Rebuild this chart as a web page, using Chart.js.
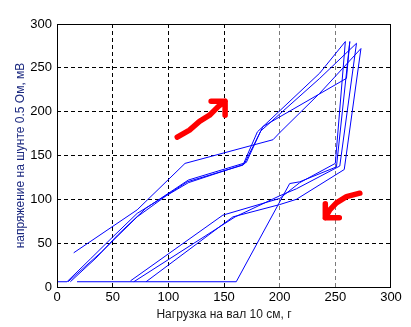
<!DOCTYPE html>
<html><head><meta charset="utf-8">
<script src="https://cdn.jsdelivr.net/npm/chart.js@4.4.1/dist/chart.umd.min.js"></script>
<style>html,body{margin:0;padding:0;background:#fff}</style>
</head><body>
<canvas id="c" width="411" height="327" style="width:411px;height:327px;display:block"></canvas>
<script>
// axis ticks
const xTicks = [0, 50, 100, 150, 200, 250, 300];
const yTicks = [0, 50, 100, 150, 200, 250, 300];

// loading / unloading cycles (load, g  ->  voltage, mV)
const cycle1X = [0, 9, 30, 50, 72, 100, 117, 167, 180, 236, 259, 250, 218, 200, 149, 66];
const cycle1Y = [6, 6, 32, 57, 84, 106, 120, 139, 177, 244, 280, 141, 119, 101, 82, 7];

const cycle2X = [12, 35, 55, 80, 118, 170, 183, 236, 269, 254, 215, 200, 160, 69];
const cycle2Y = [6, 33, 60, 90, 122, 142, 178, 238, 278, 138, 112, 104, 80, 6];

const cycle3X = [15, 72, 115, 194, 200, 236, 273, 258, 215, 200, 158, 80];
const cycle3Y = [39, 88, 141, 168, 176, 221, 272, 134, 100, 94, 80, 6];

const cycle4X = [10, 40, 72, 98, 118, 168, 176, 185, 260, 263, 251, 218, 209, 161, 18];
const cycle4Y = [6, 40, 80, 104, 119, 140, 160, 183, 238, 280, 137, 120, 118, 6, 6];

// hand-drawn red arrows (data coordinates)
const arrowUpX = [108, 119, 128, 137, 145, 151];
const arrowUpY = [171, 179, 189, 196, 206, 212];
const arrowDownX = [272, 260, 251, 245, 241];
const arrowDownY = [107, 103, 96, 88, 79];

const cycles = [[cycle1X, cycle1Y], [cycle2X, cycle2Y], [cycle3X, cycle3Y], [cycle4X, cycle4Y]];
const datasets = cycles.map(([xs, ys]) => ({
  data: xs.map((x, i) => ({x: x, y: ys[i]})),
  showLine: true, borderColor: '#0000ff', borderWidth: 1,
  pointRadius: 0, tension: 0, fill: false
}));

const overlay = {
  id: 'overlay',
  afterDraw(chart) {
    const {ctx, chartArea: a, scales: {x, y}} = chart;
    ctx.save();
    ctx.strokeStyle = '#000'; ctx.lineWidth = 1; ctx.setLineDash([]);
    ctx.strokeRect(Math.round(a.left) + 0.5, Math.round(a.top) + 0.5,
                   Math.round(a.right - a.left) - 1, Math.round(a.bottom - a.top));
    const drawArrow = (xs, ys) => {
      const pts = xs.map((v, i) => [x.getPixelForValue(v), y.getPixelForValue(ys[i])]);
      ctx.strokeStyle = '#ff0000'; ctx.lineWidth = 5.5;
      ctx.lineCap = 'round'; ctx.lineJoin = 'round';
      ctx.beginPath();
      pts.forEach((p, i) => i ? ctx.lineTo(p[0], p[1]) : ctx.moveTo(p[0], p[1]));
      const n = pts.length, tip = pts[n - 1], prev = pts[n - 2];
      let back = Math.atan2(prev[1] - tip[1], prev[0] - tip[0]);
      back = Math.round(back / (Math.PI / 4)) * (Math.PI / 4);
      const L = 14;
      [back - Math.PI / 4, back + Math.PI / 4].forEach(ang => {
        ctx.moveTo(tip[0], tip[1]);
        ctx.lineTo(tip[0] + L * Math.cos(ang), tip[1] + L * Math.sin(ang));
      });
      ctx.stroke();
    };
    drawArrow(arrowUpX, arrowUpY);
    drawArrow(arrowDownX, arrowDownY);
    ctx.restore();
  }
};

const gridColor = (ctx, axis) => {
  const v = ctx.tick && ctx.tick.value;
  if (v === 0 || v === 300) return 'rgba(0,0,0,0)';
  if (axis === 'x' && (v === 200 || v === 250)) return '#7a7a7a';
  return '#000';
};

const font = {family: "'Liberation Sans', Arial, sans-serif", size: 13};

new Chart(document.getElementById('c'), {
  type: 'scatter',
  data: {datasets},
  options: {
    responsive: false, animation: false, devicePixelRatio: 1,
    layout: {padding: {left: 0, right: 20, top: 24, bottom: 0}},
    plugins: {legend: {display: false}, tooltip: {enabled: false}},
    scales: {
      x: {
        type: 'linear', min: 0, max: 300,
        afterBuildTicks: s => { s.ticks = xTicks.map(v => ({value: v})); },
        afterFit: s => { s.height = 40; },
        ticks: {font, color: '#000', padding: 3, maxRotation: 0, autoSkip: false},
        grid: {color: c => gridColor(c, 'x'), drawTicks: false, lineWidth: 1},
        border: {display: false, dash: [4, 3]},
        title: {display: true, text: 'Нагрузка на вал 10 см, г', color: '#1a1a1a',
                font: {family: "'Liberation Sans', Arial, sans-serif", size: 12},
                padding: {top: 0, bottom: 5}}
      },
      y: {
        type: 'linear', min: 0, max: 300,
        afterBuildTicks: s => { s.ticks = yTicks.map(v => ({value: v})); },
        afterFit: s => { s.width = 57; },
        ticks: {font, color: '#000', padding: 5, autoSkip: false},
        grid: {color: c => gridColor(c, 'y'), drawTicks: false, lineWidth: 1},
        border: {display: false, dash: [4, 3]},
        title: {display: true, text: 'напряжение на шунте 0.5 Ом, мВ', color: '#1c2a80',
                font: {family: "'Liberation Sans', Arial, sans-serif", size: 12},
                padding: {top: 13, bottom: 0}}
      }
    }
  },
  plugins: [overlay]
});
</script>
</body></html>
